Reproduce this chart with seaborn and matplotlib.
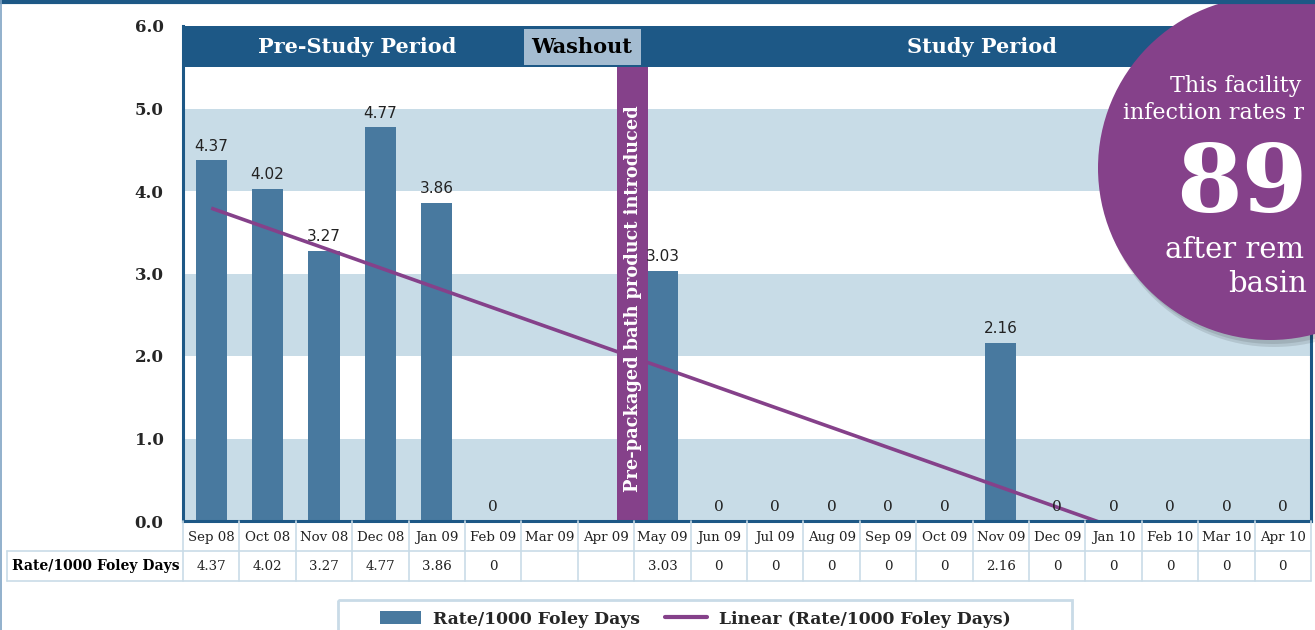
import numpy as np
import pandas as pd
import matplotlib

matplotlib.use("Agg")
import matplotlib.pyplot as plt
import seaborn as sns
from matplotlib.lines import Line2D
from matplotlib.patches import Circle, Patch, Rectangle

# --- data -----------------------------------------------------------------
months = [
    "Sep 08", "Oct 08", "Nov 08", "Dec 08", "Jan 09", "Feb 09", "Mar 09",
    "Apr 09", "May 09", "Jun 09", "Jul 09", "Aug 09", "Sep 09", "Oct 09",
    "Nov 09", "Dec 09", "Jan 10", "Feb 10", "Mar 10", "Apr 10",
]
rates = [
    4.37, 4.02, 3.27, 4.77, 3.86, 0, np.nan, np.nan, 3.03, 0,
    0, 0, 0, 0, 2.16, 0, 0, 0, 0, 0,
]
series_name = "Rate/1000 Foley Days"
trend_name = "Linear (Rate/1000 Foley Days)"
period_labels = ["Pre-Study Period", "Washout", "Study Period"]
intro_label = "Pre-packaged bath product introduced"
y_ticks = [0.0, 1.0, 2.0, 3.0, 4.0, 5.0, 6.0]
# callout text as far as it is visible before the right edge of the page
callout_small = ["This facility", "infection rates r"]
callout_big = "89"
callout_tail = ["after rem", "basin"]

DARK = "#1d5886"
BAR = "#48799f"
BAND = "#c8dce7"
WASH = "#a4bcd1"
PURPLE = "#85418a"
GRID = "#c9dbe7"
INK = "#222222"

sns.set_theme(style="white")
plt.rcParams["font.family"] = ["DejaVu Serif"]

W, H = 1315, 630
n = len(months)
fig = plt.figure(figsize=(W / 100, H / 100), dpi=100)
ax = fig.add_axes([183 / W, 1 - 521 / H, (1311 - 183) / W, (521 - 26) / H])

df = pd.DataFrame({"month": months, "rate": rates})
df["bar"] = df["rate"].fillna(0)

# background bands + header strip
for lo in (0, 2, 4):
    ax.axhspan(lo, lo + 1, color=BAND, lw=0, zorder=0)
ax.axhspan(5.5, 6.0, color=DARK, lw=0, zorder=1)

sns.barplot(data=df, x="month", y="bar", order=months, color=BAR, width=0.55,
            saturation=1, errorbar=None, ax=ax, zorder=3, linewidth=0,
            edgecolor="none")

# linear trend (same as Excel trendline, blanks skipped)
x = np.arange(n)
ok = df["rate"].notna().to_numpy()
slope, icpt = np.polyfit(x[ok], df["rate"].to_numpy()[ok], 1)
ax.plot(x, slope * x + icpt, color=PURPLE, lw=2.6, zorder=4, solid_capstyle="butt")

for i, v in enumerate(rates):
    if np.isnan(v):
        continue
    fam = "DejaVu Sans" if v > 0 else "DejaVu Serif"
    ax.annotate(f"{v:g}", (i, v), xytext=(0, 5), textcoords="offset points",
                ha="center", va="bottom", fontsize=11, family=fam, color=INK, zorder=6)

# intervention marker
intro_x = months.index("May 09") - 0.5
ax.add_patch(Rectangle((intro_x - 0.3, 0), 0.55, 5.5, color=PURPLE, lw=0, zorder=5))
ax.text(intro_x - 0.025, 2.7, intro_label, rotation=90, ha="center", va="center",
        color="white", fontsize=12.8, fontweight="bold", zorder=6)

# period header
ax.add_patch(Rectangle((5.55, 5.53), 2.07, 0.43, color=WASH, lw=0, zorder=2))
ax.text(2.585, 5.75, period_labels[0], ha="center", va="center", color="white",
        fontsize=15, fontweight="bold", zorder=3)
ax.text(6.57, 5.75, period_labels[1], ha="center", va="center", color="black",
        fontsize=15, fontweight="bold", zorder=3)
ax.text(13.67, 5.75, period_labels[2], ha="center", va="center", color="white",
        fontsize=15, fontweight="bold", zorder=3)

ax.set_xlim(-0.5, n - 0.5)
ax.set_ylim(0, 6)
ax.set_xticks([])
ax.set_yticks(y_ticks, labels=[f"{t:.1f}" for t in y_ticks])
ax.tick_params(axis="y", length=0, pad=14, labelsize=12)
for lab in ax.get_yticklabels():
    lab.set_fontweight("bold")
ax.set_xlabel("")
ax.set_ylabel("")
for side in ("left", "bottom", "right"):
    ax.spines[side].set_color(DARK)
    ax.spines[side].set_linewidth(2.2)
    ax.spines[side].set_zorder(7)
ax.spines["top"].set_visible(False)

# data table under the plot
tb = fig.add_axes([183 / W, 1 - 581 / H, (1311 - 183) / W, 60 / H])
tb.set_xlim(-0.5, n - 0.5)
tb.set_ylim(0, 2)
tb.axis("off")
row_left = -0.5 - (183 - 7) / ((1311 - 183) / n)
for k in range(n + 1):
    tb.plot([k - 0.5] * 2, [0, 2], color=GRID, lw=1.2, clip_on=False)
for yy in (0, 1):
    tb.plot([row_left, n - 0.5], [yy, yy], color=GRID, lw=1.2, clip_on=False)
tb.plot([row_left] * 2, [0, 1], color=GRID, lw=1.2, clip_on=False)
for i, m in enumerate(months):
    tb.text(i, 1.45, m, ha="center", va="center", fontsize=9.6, color=INK)
for i, v in enumerate(rates):
    tb.text(i, 0.5, "" if np.isnan(v) else f"{v:g}", ha="center", va="center",
            fontsize=9.6, color=INK)
tb.text(-0.56, 0.5, series_name, ha="right", va="center", fontsize=10,
        fontweight="bold", color="black", clip_on=False)

# legend
handles = [
    Patch(facecolor=BAR, edgecolor="none", label=series_name),
    Line2D([], [], color=PURPLE, lw=3, label=trend_name),
]
fig.legend(handles=handles, loc="center left", bbox_to_anchor=(380 / W, 1 - 619 / H),
           ncol=2, frameon=False, prop={"weight": "bold", "size": 12.4},
           handlelength=2.4, handleheight=0.8, handletextpad=0.7,
           columnspacing=1.45, borderpad=0, borderaxespad=0)

# overlay in pixel space: frame lines, legend box, callout circle
ov = fig.add_axes([0, 0, 1, 1], zorder=10)
ov.set_xlim(0, W)
ov.set_ylim(H, 0)
ov.axis("off")
ov.patch.set_alpha(0)
ov.plot([0, W], [2, 2], color=DARK, lw=3)
ov.plot([1, 1], [0, H], color="#7fa3c4", lw=1.2)
ov.add_patch(Rectangle((338, 600), 734, 60, fill=False, edgecolor=GRID, lw=2))
ov.add_patch(Circle((1274, 174), 173, color="black", alpha=0.10, lw=0))
ov.add_patch(Circle((1273, 172), 172, color="black", alpha=0.10, lw=0))
ov.add_patch(Circle((1270, 168), 172, color=PURPLE, lw=0))
ov.text(1170, 92, callout_small[0], ha="left", va="baseline", color="white", fontsize=16)
ov.text(1123, 119, callout_small[1], ha="left", va="baseline", color="white", fontsize=16)
ov.text(1176, 212, callout_big, ha="left", va="baseline", color="white", fontsize=68,
        fontweight="bold")
ov.text(1165, 258, callout_tail[0], ha="left", va="baseline", color="white", fontsize=21)
ov.text(1228, 292, callout_tail[1], ha="left", va="baseline", color="white", fontsize=21)

fig.savefig("out.png", dpi=100)
